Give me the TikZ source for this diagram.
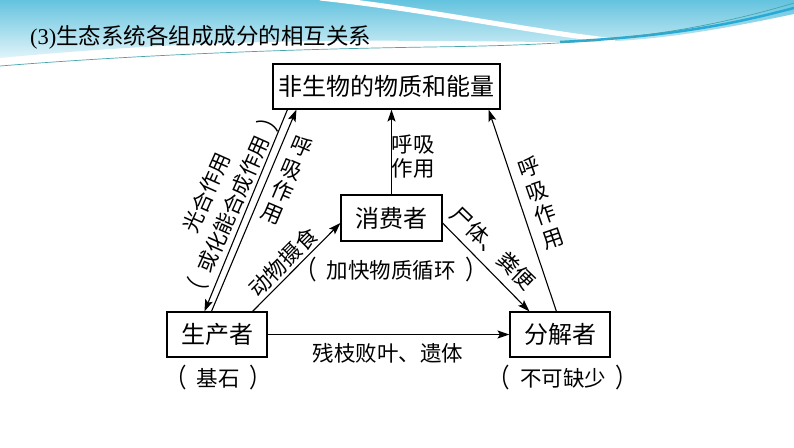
\documentclass[tikz,border=0pt]{standalone}
\usepackage{fontspec}
\setmainfont{Liberation Serif}
\newfontfamily\cjk[Kerning=Off]{Noto Sans CJK SC}
\usetikzlibrary{arrows.meta}
\definecolor{hdA}{RGB}{100,195,222}
\definecolor{hdB}{RGB}{225,244,250}
\definecolor{hdLine}{RGB}{70,165,175}
\definecolor{hdDeep}{RGB}{40,170,215}
\newcommand\lpar{\makebox[1em][l]{\hspace{-0.45em}\raisebox{-0.08em}{\scalebox{1}[1.22]{（}}}}
\newcommand\rpar{\makebox[1em][r]{\raisebox{-0.08em}{\scalebox{1}[1.22]{）}}\hspace{-0.45em}}}
\begin{document}
\begin{tikzpicture}[x=1pt,y=-1pt,
  box/.style={draw, line width=1.1pt, minimum height=45pt, inner sep=0pt,
              font=\cjk\fontsize{24}{28}\selectfont},
  lbl/.style={font=\cjk\fontsize{21.5}{24}\selectfont, inner sep=0pt, align=center},
  arr/.style={line width=1.1pt, -{Stealth[length=12pt,width=8pt,inset=2.5pt]}}]
\useasboundingbox (0,0) rectangle (794,447);
\fill[white] (0,0) rectangle (794,447);
% header decoration
\shade[top color=hdA, bottom color=hdB]
  (0,0) -- (794,0) -- (794,14) .. controls (700,34) and (640,42) .. (580,42)
  .. controls (420,42) and (250,34) .. (0,58) -- cycle;
\draw[white, line width=5pt] (320,-2) .. controls (430,10) and (520,30) .. (615,41);
\draw[hdDeep, line width=2.5pt] (560,42) .. controls (680,36) and (740,22) .. (794,8);
\draw[hdLine, line width=0.7pt] (0,66) .. controls (150,54) and (300,49) .. (430,47)
  .. controls (570,45) and (670,40) .. (794,3);
% title
\node[anchor=west, inner sep=0pt] (title) at (30,37)
  {\fontsize{22.5}{26}\selectfont(3)\cjk 生态系统各组成成分的相互关系};
% boxes
\node[box, minimum width=227pt] (abio) at (386.5,86.5) {非生物的物质和能量};
\node[box, minimum width=101pt, minimum height=46pt] (cons) at (391.5,218) {消费者};
\node[box, minimum width=100pt] (prod) at (217,334.5) {生产者};
\node[box, minimum width=100pt] (deco) at (560,334.5) {分解者};
% connectors
\draw[arr] ([xshift=15pt]abio.south west) -- ([xshift=38pt]prod.north west);
\draw[arr] ([xshift=45pt]prod.north west) -- ([xshift=24pt]abio.south west);
\draw[arr] (cons.north) -- (cons.north |- abio.south);
\draw[arr] ([xshift=-15pt]prod.north east) -- ([yshift=-5pt]cons.west);
\draw[arr] ([yshift=-5pt]cons.east) -- ([xshift=20pt]deco.north west);
\draw[arr] ([xshift=47pt]deco.north west) -- ([xshift=-12pt]abio.south east);
\draw[arr] (prod.east) -- (deco.west);
% labels
\node[lbl, rotate=66, font=\cjk\fontsize{21}{29}\selectfont] (l1) at (221,199) {光合作用\\\lpar 或化能合成作用\rpar};
\node[lbl, rotate=-23] (l2) at (287,180) {呼\\吸\\作\\用};
\node[lbl] (l3) at (413,157) {呼吸\\作用};
\node[lbl, rotate=45] (l4) at (283,262) {动物摄食};
\node[lbl, rotate=-44] (l5) at (493,248) {尸体、粪便};
\node[lbl, rotate=19, font=\cjk\fontsize{21.5}{25}\selectfont] (l6) at (541,203) {呼\\吸\\作\\用};
\node[lbl] (l7) at (391,270) {\lpar 加快物质循环\rpar};
\node[lbl] (l8) at (388,353) {残枝败叶、遗体};
\node[lbl] (l9) at (218,378) {\lpar 基石\rpar};
\node[lbl] (l10) at (563,378) {\lpar 不可缺少\rpar};
\end{tikzpicture}
\end{document}
